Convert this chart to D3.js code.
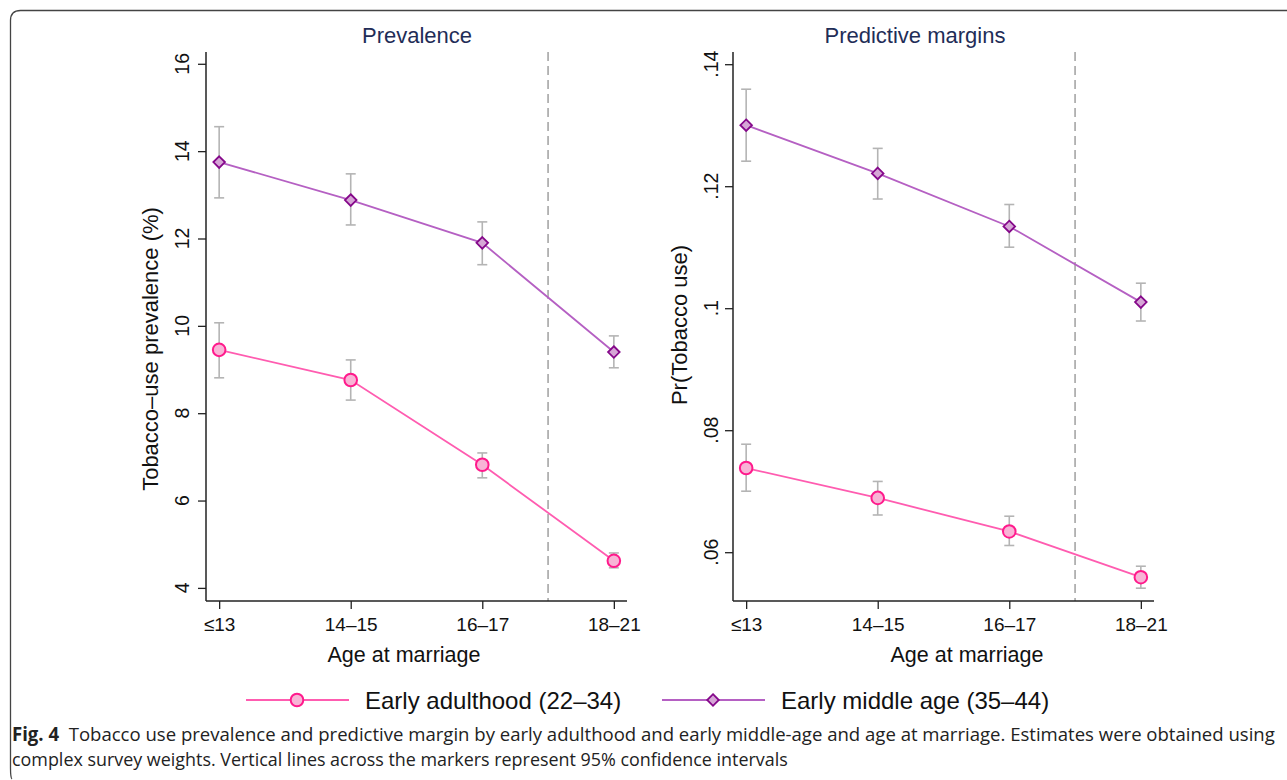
<!DOCTYPE html>
<html>
<head>
<meta charset="utf-8">
<script src="https://cdn.jsdelivr.net/npm/d3@7"></script>
<style>
  html, body { margin: 0; padding: 0; background: #fff; }
  svg { display: block; }
</style>
</head>
<body>
<div id="chart"></div>
<script>
// Age-at-marriage categories (x axis)
const ageGroups = ['≤13', '14–15', '16–17', '18–21'];

// Prevalence panel (%)
const prevAdult = [9.45, 8.76, 6.82, 4.62];
const prevAdultLo = [8.81, 8.30, 6.52, 4.46];
const prevAdultHi = [10.07, 9.22, 7.09, 4.80];
const prevMiddle = [13.75, 12.88, 11.90, 9.40];
const prevMiddleLo = [12.93, 12.31, 11.40, 9.04];
const prevMiddleHi = [14.56, 13.48, 12.38, 9.77];
const prevTicks = [4, 6, 8, 10, 12, 14, 16];

// Predictive margins panel (probability)
const marAdult = [0.0738, 0.0689, 0.0634, 0.0559];
const marAdultLo = [0.0700, 0.0661, 0.0611, 0.0541];
const marAdultHi = [0.0777, 0.0716, 0.0659, 0.0577];
const marMiddle = [0.1300, 0.1221, 0.1134, 0.1010];
const marMiddleLo = [0.1241, 0.1179, 0.1100, 0.0979];
const marMiddleHi = [0.1359, 0.1262, 0.1170, 0.1041];
const marTicks = [0.06, 0.08, 0.10, 0.12, 0.14];

const width = 1287;
const height = 780;

const font = '"Liberation Sans", Arimo, Helvetica, Arial, sans-serif';
const titleColor = '#1f2d57';
const axisColor = '#222';
const ciColor = '#b4b4b4';
const adultLine = '#ff5cb0';
const adultStroke = '#ff1a8c';
const adultFill = '#f8b4d6';
const middleLine = '#b560c3';
const middleStroke = '#85088a';
const middleFill = '#d6a6d6';

const svg = d3.select('#chart')
  .append('svg')
  .attr('width', width)
  .attr('height', height)
  .attr('viewBox', `0 0 ${width} ${height}`);

/* Figure frame (opens to the right) */
svg.append('path')
  .attr('d', 'M 1290 10.5 L 20.5 10.5 Q 10.5 10.5 10.5 20.5 L 10.5 768 Q 10.5 778 12 779')
  .attr('fill', 'none')
  .attr('stroke', '#444')
  .attr('stroke-width', 1.3);

const panels = [
  {
    title: 'Prevalence', titleX: 417,
    yLabel: 'Tobacco–use prevalence (%)', yLabelX: 158, yLabelY: 349,
    xLabelX: 404,
    left: 206, right: 627, top: 52, bottom: 601,
    yDomain: [3.70, 16.27], ticks: prevTicks, tickFormat: d3.format('d'), tickLabelX: 189,
    series: [
      { v: prevAdult, lo: prevAdultLo, hi: prevAdultHi, kind: 'circle' },
      { v: prevMiddle, lo: prevMiddleLo, hi: prevMiddleHi, kind: 'diamond' },
    ],
  },
  {
    title: 'Predictive margins', titleX: 915,
    yLabel: 'Pr(Tobacco use)', yLabelX: 687, yLabelY: 325,
    xLabelX: 967,
    left: 733, right: 1154, top: 52, bottom: 601,
    yDomain: [0.052, 0.142], ticks: marTicks,
    tickFormat: (d) => d3.format('.2~f')(d).replace(/^0/, ''), tickLabelX: 718,
    series: [
      { v: marAdult, lo: marAdultLo, hi: marAdultHi, kind: 'circle' },
      { v: marMiddle, lo: marMiddleLo, hi: marMiddleHi, kind: 'diamond' },
    ],
  },
];

const diamondPath = (cx, cy, r) =>
  `M${cx},${cy - r}L${cx + r},${cy}L${cx},${cy + r}L${cx - r},${cy}Z`;

function drawMarker(g, kind, cx, cy) {
  if (kind === 'circle') {
    g.append('circle')
      .attr('cx', cx).attr('cy', cy).attr('r', 6.3)
      .attr('fill', adultFill)
      .attr('stroke', adultStroke)
      .attr('stroke-width', 2);
  } else {
    g.append('path')
      .attr('d', diamondPath(cx, cy, 5.8))
      .attr('fill', middleFill)
      .attr('stroke', middleStroke)
      .attr('stroke-width', 1.8);
  }
}

panels.forEach((p) => {
  const x = d3.scaleLinear().domain([0.9, 4.1]).range([p.left, p.right]);
  const y = d3.scaleLinear().domain(p.yDomain).range([p.bottom, p.top]);
  const g = svg.append('g');

  /* Panel title */
  g.append('text')
    .attr('x', p.titleX).attr('y', 43)
    .attr('text-anchor', 'middle')
    .attr('font-family', font).attr('font-size', 22)
    .attr('fill', titleColor)
    .text(p.title);

  /* Dashed separator between 16–17 and 18–21 */
  g.append('line')
    .attr('x1', x(3.5)).attr('x2', x(3.5))
    .attr('y1', p.top).attr('y2', p.bottom)
    .attr('stroke', '#a0a0a0')
    .attr('stroke-width', 1.5)
    .attr('stroke-dasharray', '9,5');

  /* Y axis */
  const yAxis = g.append('g')
    .attr('transform', `translate(${p.left},0)`)
    .call(d3.axisLeft(y).tickValues(p.ticks).tickSize(8).tickFormat(''));
  yAxis.select('.domain').attr('stroke', axisColor).attr('stroke-width', 1.5).attr('d', `M0,${p.top}V${p.bottom}`);
  yAxis.selectAll('.tick line').attr('stroke', axisColor).attr('stroke-width', 1.3);

  g.selectAll('text.ytick')
    .data(p.ticks)
    .join('text')
    .attr('class', 'ytick')
    .attr('transform', (d) => `translate(${p.tickLabelX},${y(d)}) rotate(-90)`)
    .attr('text-anchor', 'middle')
    .attr('font-family', font).attr('font-size', 19.5)
    .attr('fill', '#111')
    .text(p.tickFormat);

  g.append('text')
    .attr('transform', `translate(${p.yLabelX},${p.yLabelY}) rotate(-90)`)
    .attr('text-anchor', 'middle')
    .attr('font-family', font).attr('font-size', 22)
    .attr('fill', '#111')
    .text(p.yLabel);

  /* X axis */
  const xAxis = g.append('g')
    .attr('transform', `translate(0,${p.bottom})`)
    .call(d3.axisBottom(x).tickValues([1, 2, 3, 4]).tickSize(8).tickPadding(9)
      .tickFormat((d) => ageGroups[d - 1]));
  xAxis.select('.domain').attr('stroke', axisColor).attr('stroke-width', 1.5).attr('d', `M${p.left},0H${p.right}`);
  xAxis.selectAll('.tick line').attr('stroke', axisColor).attr('stroke-width', 1.3);
  xAxis.selectAll('.tick text')
    .attr('font-family', font).attr('font-size', 19)
    .attr('fill', '#111');

  g.append('text')
    .attr('x', p.xLabelX).attr('y', 662)
    .attr('text-anchor', 'middle')
    .attr('font-family', font).attr('font-size', 21.5)
    .attr('fill', '#111')
    .text('Age at marriage');

  /* Series: CI bars, connecting lines, markers */
  p.series.forEach((s) => {
    const pts = s.v.map((v, i) => ({ i: i + 1, v, lo: s.lo[i], hi: s.hi[i] }));

    pts.forEach((d) => {
      const cx = x(d.i);
      g.append('line')
        .attr('x1', cx).attr('x2', cx)
        .attr('y1', y(d.lo)).attr('y2', y(d.hi))
        .attr('stroke', ciColor).attr('stroke-width', 1.6);
      [d.lo, d.hi].forEach((c) => {
        g.append('line')
          .attr('x1', cx - 5).attr('x2', cx + 5)
          .attr('y1', y(c)).attr('y2', y(c))
          .attr('stroke', ciColor).attr('stroke-width', 1.6);
      });
    });

    g.append('path')
      .datum(pts)
      .attr('fill', 'none')
      .attr('stroke', s.kind === 'circle' ? adultLine : middleLine)
      .attr('stroke-width', 1.8)
      .attr('d', d3.line().x((d) => x(d.i)).y((d) => y(d.v)));

    pts.forEach((d) => drawMarker(g, s.kind, x(d.i), y(d.v)));
  });
});

/* Legend */
const legendItems = [
  { label: 'Early adulthood (22–34)', kind: 'circle', color: adultLine, x0: 246 },
  { label: 'Early middle age (35–44)', kind: 'diamond', color: middleLine, x0: 662 },
];
const legend = svg.append('g').attr('transform', 'translate(0,700)');
legendItems.forEach((d) => {
  legend.append('line')
    .attr('x1', d.x0).attr('x2', d.x0 + 103)
    .attr('y1', 0).attr('y2', 0)
    .attr('stroke', d.color).attr('stroke-width', 2.2);
  drawMarker(legend, d.kind, d.x0 + 51, 0);
  legend.append('text')
    .attr('x', d.x0 + 119).attr('y', 9)
    .attr('font-family', font).attr('font-size', 24)
    .attr('fill', '#111')
    .text(d.label);
});

/* Caption: condensed look by squeezing each line horizontally to its target width */
const capFont = '"Liberation Sans Narrow", "Open Sans", sans-serif';
function captionLine(y, targetWidth, parts) {
  const t = svg.append('text')
    .attr('font-family', capFont).attr('font-size', 19)
    .attr('fill', '#222');
  parts.forEach((part) => {
    t.append('tspan').attr('font-weight', part.bold ? 700 : 400).text(part.text);
  });
  const natural = t.node().getComputedTextLength();
  t.attr('transform', `translate(12,${y}) scale(${targetWidth / natural},1)`);
}
captionLine(741, 1264, [
  { text: 'Fig. 4', bold: true },
  { text: '\u00a0 Tobacco use prevalence and predictive margin by early adulthood and early middle-age and age at marriage. Estimates were obtained using' },
]);
captionLine(766, 776, [
  { text: 'complex survey weights. Vertical lines across the markers represent 95% confidence intervals' },
]);
</script>
</body>
</html>
